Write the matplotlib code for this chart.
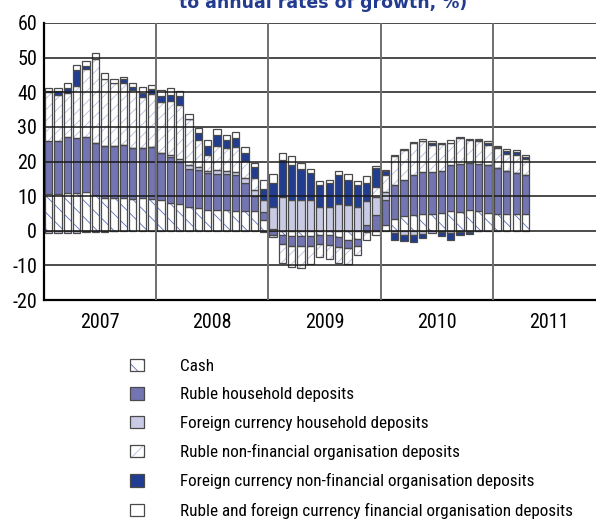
import matplotlib
matplotlib.use("Agg")
import numpy as np
import matplotlib.pyplot as plt
from matplotlib.patches import Patch

plt.rcParams['font.family'] = ['Roboto Condensed', 'DejaVu Sans']
plt.rcParams['hatch.linewidth'] = 0.6

# monthly contributions, Jan 2007 .. Apr 2011
years = ['2007', '2008', '2009', '2010', '2011']
cash = [10.7, 10.7, 11.0, 10.9, 11.1, 10.3, 9.6, 9.5, 9.5, 9.2, 9.6, 9.1,
        9.0, 8.0, 7.8, 6.9, 6.7, 6.1, 5.9, 6.1, 5.8, 5.6, 5.6, 3.2,
        0.5, -1.2, -1.5, -1.5, -1.5, -1.3, -1.3, -1.8, -2.6, -2.5, -0.3, -1.2,
        1.6, 3.5, 4.3, 4.5, 4.9, 4.9, 5.2, 5.6, 5.4, 5.9, 5.6, 5.2,
        4.9, 4.7, 4.7, 4.7]
rub_hh = [15.2, 15.3, 16.0, 15.8, 16.1, 15.1, 14.8, 15.0, 15.2, 14.6, 14.3, 15.2,
          13.4, 13.3, 12.2, 11.0, 10.9, 10.6, 10.6, 10.2, 10.2, 8.2, 4.3, 2.3,
          -1.3, -2.6, -2.8, -3.0, -3.0, -2.6, -2.9, -2.9, -2.5, -2.0, 1.6, 4.5,
          7.2, 9.6, 10.4, 11.5, 12.2, 12.1, 12.2, 13.3, 14.0, 13.7, 13.8, 13.7,
          13.2, 12.7, 12.1, 11.5]
fx_hh = [-0.7, -0.7, -0.6, -0.6, -0.5, 0, 0, 0, 0, 0, 0, 0,
         0, 0.5, 0.7, 1.0, 0.8, 0.7, 1.1, 1.1, 1.1, 1.5, 2.0, 3.4,
         6.4, 9.7, 9.0, 8.8, 8.8, 7.0, 7.0, 7.6, 7.3, 6.9, 7.0, 5.3,
         2.4, -0.6, -1.1, -1.1, -1.0, -0.7, -0.4, -0.7, -0.4, -0.4, -0.2, 0,
         0, 0, 0, 0]
rub_nf = [14.1, 13.2, 12.9, 15.2, 19.4, 24.2, 19.5, 18.1, 18.0, 16.9, 14.8, 15.2,
          14.7, 15.6, 15.7, 13.4, 7.7, 4.5, 7.0, 6.6, 7.2, 4.8, 3.4, -0.3,
          -0.5, -5.6, -6.3, -6.4, -5.2, -3.7, -4.1, -4.6, -4.6, -2.6, -2.3, 2.8,
          5.0, 8.4, 8.7, 9.4, 8.7, 7.8, 7.7, 6.5, 7.5, 6.5, 6.5, 6.0,
          5.8, 4.8, 5.0, 4.4]
fx_nf = [0.4, 1.1, 1.3, 4.4, 1.1, -0.3, -0.5, -0.2, 1.0, 0.7, 1.0, 1.4,
         1.9, 1.9, 2.4, 0.1, 2.1, 2.7, 3.1, 2.1, 2.5, 2.3, 3.1, 3.2,
         6.9, 10.6, 10.1, 8.9, 7.9, 6.1, 6.8, 8.4, 7.4, 6.4, 5.2, 5.5,
         1.2, -2.1, -1.9, -2.1, -1.1, 0.5, -1.0, -2.0, -0.9, -0.6, 0.2, 0.5,
         0.4, 0.7, 0.9, 0.7]
fin_org = [0.7, 0.8, 1.5, 1.5, 1.4, 1.8, 1.6, 1.3, 0.7, 1.4, 1.7, 1.3,
           1.7, 2.0, 1.5, 1.4, 1.4, 1.7, 1.7, 1.6, 1.7, 1.9, 1.1, 2.6,
           2.7, 2.2, 2.4, 1.8, 1.2, 1.3, 0.9, 1.2, 1.8, 1.2, 1.9, 0.6,
           0.2, 0.3, 0.3, 0.3, 0.8, 0.5, 0.3, 0.7, 0.3, 0.5, 0.3, 0.5,
           0.3, 0.6, 0.5, 0.6]

labels = ['Cash', 'Ruble household deposits', 'Foreign currency household deposits',
          'Ruble non-financial organisation deposits',
          'Foreign currency non-financial organisation deposits',
          'Ruble and foreign currency financial organisation deposits']
series = [cash, rub_hh, fx_hh, rub_nf, fx_nf, fin_org]
faces = ['white', '#7375b3', '#c9cae4', 'white', '#213d91', 'white']
hatches = ['\\\\', None, None, '///', None, None]
hatch_cols = ['#5a6fc0', None, None, '#b4bde0', None, None]
edge = '#4a4a4a'

fig = plt.figure(figsize=(5.96, 5.21), dpi=100)
ax = fig.add_axes([44 / 596, 1 - 300 / 521, 561 / 596, 277 / 521])

x = np.arange(len(cash))
w = 0.78
pos_base = np.zeros(len(x))
neg_base = np.zeros(len(x))
handles = []
for vals, fc, h, hc, lab in zip(series, faces, hatches, hatch_cols, labels):
    v = np.array(vals, dtype=float)
    bottom = np.where(v >= 0, pos_base, neg_base)
    if h:
        # hatch layer first, outline on top so the hatch keeps its own colour
        ax.bar(x, v, w, bottom=bottom, color=fc, hatch=h, edgecolor=hc, linewidth=0, zorder=2)
        ax.bar(x, v, w, bottom=bottom, fill=False, edgecolor=edge, linewidth=0.9, zorder=2.1)
        handles.append((Patch(facecolor=fc, hatch=h, edgecolor=hc, linewidth=0),
                        Patch(fill=False, edgecolor=edge, linewidth=0.9)))
    else:
        ax.bar(x, v, w, bottom=bottom, color=fc, edgecolor=edge, linewidth=0.9, zorder=2.1)
        handles.append(Patch(facecolor=fc, edgecolor=edge, linewidth=0.9))
    pos_base = pos_base + np.where(v >= 0, v, 0)
    neg_base = neg_base + np.where(v < 0, v, 0)

ax.set_xlim(-0.5, 59.5)
ax.set_ylim(-20, 60)

yt = np.arange(-20, 61, 10)
ax.set_yticks(yt)
ax.set_yticklabels([str(t) for t in yt], fontsize=14.5)
ax.set_xticks([5.5, 17.5, 29.5, 41.5, 53.5])
ax.set_xticklabels(years, fontsize=14.5)
ax.tick_params(length=0)
ax.tick_params(axis='y', pad=5)
ax.tick_params(axis='x', pad=9)

for t in yt[1:]:
    ax.axhline(t, color='#1a1a1a', lw=1.1, zorder=3)
for xs in [11.5, 23.5, 35.5, 47.5]:
    ax.axvline(xs, color='#6e6e6e', lw=1.4, zorder=3)

for s in ['top', 'right']:
    ax.spines[s].set_visible(False)
ax.spines['left'].set_linewidth(1.6)
ax.spines['bottom'].set_linewidth(1.6)

fig.text(323 / 596, 1 - 8.5 / 521, 'to annual rates of growth, %)', ha='center', va='baseline',
         fontsize=12.5, fontweight='bold', color='#243c8f', family=['DejaVu Sans'])

fig.legend(handles, labels, loc='upper left', bbox_to_anchor=(130 / 596, 1 - 358.5 / 521),
           frameon=False, fontsize=12.3, handlelength=0.8, handleheight=0.75,
           handletextpad=2.15, labelspacing=0.78, borderpad=0, borderaxespad=0)

fig.savefig('out.png', dpi=100)
